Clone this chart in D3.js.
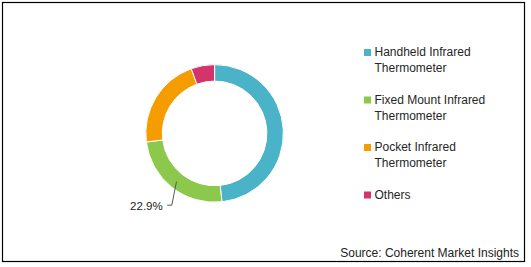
<!DOCTYPE html>
<html><head><meta charset="utf-8">
<script src="https://cdn.jsdelivr.net/npm/d3@7"></script>
<style>body{margin:0;background:#fff}svg{display:block}</style>
</head><body>
<script>
const categories = ["Handheld Infrared Thermometer", "Fixed Mount Infrared Thermometer", "Pocket Infrared Thermometer", "Others"];
const legendLines = [["Handheld Infrared", "Thermometer"], ["Fixed Mount Infrared", "Thermometer"], ["Pocket Infrared", "Thermometer"], ["Others"]];
const shares = [48.3, 24.7, 21.5, 5.5];
const dataLabels = ["", "22.9%", "", ""];
const colors = ["#4BB3C7", "#8CC84B", "#F59D00", "#D3346C"];
const sourceText = "Source: Coherent Market Insights";

const W = 531, H = 267;
const svg = d3.select("body").append("svg").attr("width", W).attr("height", H);
const font = "'Liberation Sans', Arial, sans-serif";

svg.append("rect").attr("x", 2.5).attr("y", 2.5).attr("width", 522).attr("height", 259)
  .attr("fill", "#fff").attr("stroke", "#000").attr("stroke-width", 1.2);

const cx = 214.6, cy = 133.4, R = 68.8, r = 52.3;
const pie = d3.pie().sort(null).value(d => d)(shares);
const arc = d3.arc().innerRadius(r).outerRadius(R);
const g = svg.append("g").attr("transform", `translate(${cx},${cy})`);
g.selectAll("path").data(pie).join("path")
  .attr("d", arc).attr("fill", (d, i) => colors[i])
  .attr("stroke", "#fff").attr("stroke-width", 1);

// data label with leader line
pie.forEach((d, i) => {
  if (!dataLabels[i]) return;
  const a = (d.startAngle + d.endAngle) / 2;
  const mid = 61.4;
  const p0 = [Math.sin(a) * mid, -Math.cos(a) * mid];
  const p1 = [p0[0] - 4.7, p0[1] + 23.6];
  const p2 = [p1[0] - 4.6, p1[1]];
  g.append("polyline").attr("points", [p0, p1, p2].map(p => p.join(",")).join(" "))
    .attr("fill", "none").attr("stroke", "#595959").attr("stroke-width", 1);
  g.append("text").attr("x", p2[0] - 4.5).attr("y", p2[1] + 4.5)
    .attr("text-anchor", "end").attr("font-family", font).attr("font-size", 11.5)
    .attr("fill", "#222").text(dataLabels[i]);
});

// legend
const lg = svg.append("g");
const itemY = [56, 103.5, 151, 198.5];
legendLines.forEach((lines, i) => {
  lg.append("rect").attr("x", 364).attr("y", itemY[i] - 7).attr("width", 7).attr("height", 7).attr("fill", colors[i]);
  lines.forEach((t, j) => {
    lg.append("text").attr("x", 374.5).attr("y", itemY[i] + j * 16)
      .attr("font-family", font).attr("font-size", 12).attr("fill", "#262626").text(t);
  });
});

svg.append("text").attr("x", 519).attr("y", 257).attr("text-anchor", "end")
  .attr("font-family", font).attr("font-size", 12).attr("fill", "#222").text(sourceText);
</script>
</body></html>
